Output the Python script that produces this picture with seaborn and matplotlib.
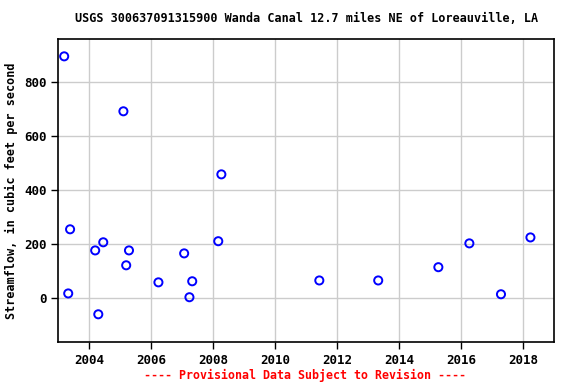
import matplotlib
matplotlib.use("Agg")
import matplotlib.pyplot as plt
import seaborn as sns
import pandas as pd

years = [2003.19, 2003.32, 2003.38, 2004.19, 2004.29, 2004.45, 2005.10, 2005.19,
         2005.28, 2006.23, 2007.06, 2007.23, 2007.32, 2008.16, 2008.26, 2011.42,
         2013.32, 2015.26, 2016.26, 2017.28, 2018.23]
flow = [894, 18, 255, 177, -59, 207, 691, 122, 177, 59, 166, 4, 63, 211, 458, 66,
        66, 115, 203, 15, 225]
xticks = [2004, 2006, 2008, 2010, 2012, 2014, 2016, 2018]
yticks = [0, 200, 400, 600, 800]

df = pd.DataFrame({"year": years, "flow": flow})

sns.set_style("white")
plt.rcParams['font.family'] = ['DejaVu Sans Mono', 'DejaVu Sans']
plt.rcParams['font.weight'] = 'bold'
plt.rcParams['text.color'] = 'black'
plt.rcParams['axes.labelcolor'] = 'black'
plt.rcParams['xtick.color'] = 'black'
plt.rcParams['ytick.color'] = 'black'

fig = plt.figure(figsize=(5.76, 3.84), dpi=100)
ax = fig.add_axes([58.3 / 576, 1 - 342.3 / 384, (554.3 - 58.3) / 576, (342.3 - 39.3) / 384])

sns.scatterplot(data=df, x="year", y="flow", ax=ax, marker="o", s=34,
                facecolors="none", edgecolor="blue", linewidth=1.4, zorder=3)

ax.set_xlim(2003.0, 2019.0)
ax.set_ylim(-162.5, 957)
ax.set_xticks(xticks)
ax.set_xticklabels([str(t) for t in xticks])
ax.set_yticks(yticks)
ax.set_yticklabels([str(t) for t in yticks])
ax.grid(True, color="#cccccc", linewidth=1)
ax.set_axisbelow(True)
for s in ax.spines.values():
    s.set_color("black")
    s.set_linewidth(1.2)
ax.tick_params(axis="both", direction="out", length=5, width=1, color="black",
               labelcolor="black", labelsize=9, bottom=True, left=True)
ax.set_xlabel("")
ax.set_ylabel("Streamflow, in cubic feet per second", fontsize=8.5, fontweight="bold",
              color="black")
ax.yaxis.set_label_coords(-0.081, 0.5)

fig.text(0.533, 1 - 19 / 384, "USGS 300637091315900 Wanda Canal 12.7 miles NE of Loreauville, LA",
         ha="center", va="center", fontsize=8.45, fontweight="bold", color="black")
fig.text(0.53, 1 - 375 / 384, "---- Provisional Data Subject to Revision ----",
         ha="center", va="center", fontsize=8.4, fontweight="bold", color="red")

fig.savefig("out.png", dpi=100)
